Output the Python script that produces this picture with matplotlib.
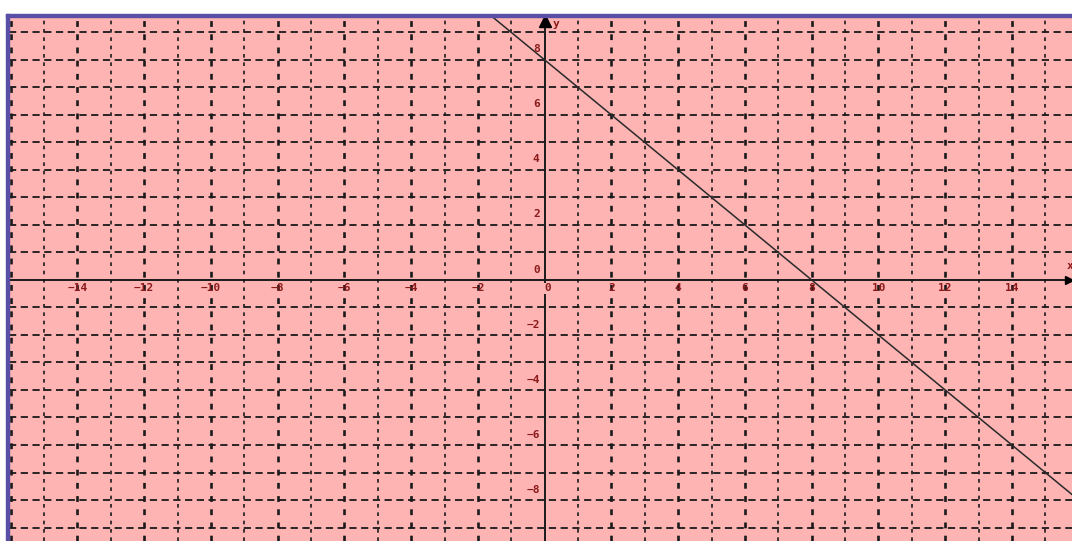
import matplotlib
matplotlib.use("Agg")
import matplotlib.pyplot as plt
from matplotlib.patches import Rectangle
import numpy as np

# Data
line_x = [-2.0, 16.0]
line_y = [10.0, -8.0]          # y = 8 - x
x_tick_vals = [-14, -12, -10, -8, -6, -4, -2, 2, 4, 6, 8, 10, 12, 14]
y_tick_vals = [8, 6, 4, 2, 0, -2, -4, -6, -8]
grid_x = list(range(-16, 17))
grid_y = list(range(-10, 11))

W, H = 1072, 541
fig = plt.figure(figsize=(W / 100, H / 100), dpi=100)
fig.patch.set_facecolor("white")

left_px, top_px = 9, 17
ax = fig.add_axes([left_px / W, 0, (W - left_px) / W, (H - top_px) / H])
ax.set_facecolor("#FFB4B4")
ax.set_xlim(-16.05, 15.8)
ax.set_ylim(-9.49, 9.56)
for s in ax.spines.values():
    s.set_visible(False)
ax.set_xticks([])
ax.set_yticks([])

gc = "#1a1a1a"
for gx in grid_x:
    if gx == 0:
        continue
    lw = 1.9 if gx % 2 == 0 else 1.2
    ax.axvline(gx, color=gc, lw=lw, ls=(0, (2.2, 2.8)), zorder=1)
for gy in grid_y:
    if gy == 0:
        continue
    ax.axhline(gy, color=gc, lw=1.3, ls=(0, (4, 2.5)), zorder=1)

# axes
ax.axhline(0, color="#1a1a1a", lw=1.4, zorder=3)
ax.axvline(0, color="#1a1a1a", lw=1.4, zorder=3)
ax.plot([0], [9.42], marker="^", color="black", ms=8, zorder=4, clip_on=False)
ax.plot([15.72], [0], marker=">", color="black", ms=6, zorder=4, clip_on=False)

# the line
ax.plot(line_x, line_y, color="#2a2a2a", lw=1.1, zorder=4)

tc = "#8B1A1A"
fp = dict(color=tc, fontsize=8, fontweight="bold", family="DejaVu Sans Mono", zorder=5)
for v in x_tick_vals:
    ax.text(v, -0.3, str(v).replace("-", "\u2212"), ha="center", va="center", **fp)
ax.text(0.08, -0.3, "0", ha="center", va="center",
        bbox=dict(facecolor="#FFB4B4", edgecolor="none", pad=0.5), **fp)
for v in y_tick_vals:
    ax.text(-0.15, v + 0.38, str(v).replace("-", "\u2212"), ha="right", va="center", **fp)
ax.text(0.35, 9.3, "y", ha="center", va="center", **fp)
ax.text(15.75, 0.5, "x", ha="center", va="center", **fp)

# purple frame
bc = "#5A4FA6"
fig.patches.append(Rectangle((6 / W, 0), 3 / W, (H - 14) / H, transform=fig.transFigure,
                             color=bc, zorder=10))
fig.patches.append(Rectangle((6 / W, (H - 17) / H), (W - 6) / W, 3 / H, transform=fig.transFigure,
                             color=bc, zorder=10))

fig.savefig("out.png", dpi=100)
